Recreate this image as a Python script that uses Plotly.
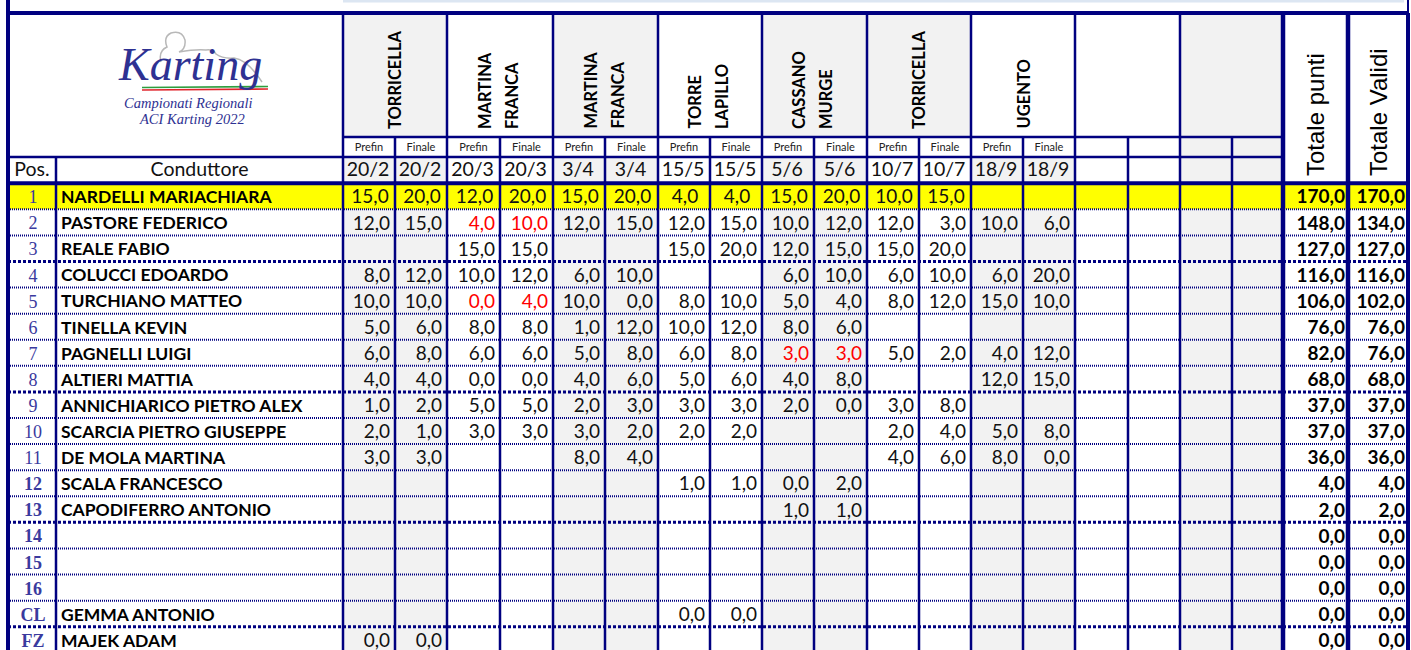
import plotly.graph_objects as go

# ---------------- data ----------------
positions = ["1", "2", "3", "4", "5", "6", "7", "8", "9", "10", "11", "12", "13",
             "14", "15", "16", "CL", "FZ"]
drivers = ["NARDELLI MARIACHIARA", "PASTORE FEDERICO", "REALE FABIO", "COLUCCI EDOARDO",
           "TURCHIANO MATTEO", "TINELLA KEVIN", "PAGNELLI LUIGI", "ALTIERI MATTIA",
           "ANNICHIARICO PIETRO ALEX", "SCARCIA PIETRO GIUSEPPE", "DE MOLA MARTINA",
           "SCALA FRANCESCO", "CAPODIFERRO ANTONIO", "", "", "", "GEMMA ANTONIO", "MAJEK ADAM"]
venue_lines = [["TORRICELLA"], ["MARTINA", "FRANCA"], ["MARTINA", "FRANCA"], ["TORRE", "LAPILLO"],
               ["CASSANO", "MURGE"], ["TORRICELLA"], ["UGENTO"], [], []]
race_dates = ["20/2", "20/3", "3/4", "15/5", "5/6", "10/7", "18/9", "", ""]
session_labels = ["Prefin", "Finale"]

N = None
torricella_1_prefin = [15, 12, N, 8, 10, 5, 6, 4, 1, 2, 3, N, N, N, N, N, N, 0]
torricella_1_finale = [20, 15, N, 12, 10, 6, 8, 4, 2, 1, 3, N, N, N, N, N, N, 0]
martina_1_prefin = [12, 4, 15, 10, 0, 8, 6, 0, 5, 3, N, N, N, N, N, N, N, N]
martina_1_finale = [20, 10, 15, 12, 4, 8, 6, 0, 5, 3, N, N, N, N, N, N, N, N]
martina_2_prefin = [15, 12, N, 6, 10, 1, 5, 4, 2, 3, 8, N, N, N, N, N, N, N]
martina_2_finale = [20, 15, N, 10, 0, 12, 8, 6, 3, 2, 4, N, N, N, N, N, N, N]
lapillo_prefin = [4, 12, 15, N, 8, 10, 6, 5, 3, 2, N, 1, N, N, N, N, 0, N]
lapillo_finale = [4, 15, 20, N, 10, 12, 8, 6, 3, 2, N, 1, N, N, N, N, 0, N]
cassano_prefin = [15, 10, 12, 6, 5, 8, 3, 4, 2, N, N, 0, 1, N, N, N, N, N]
cassano_finale = [20, 12, 15, 10, 4, 6, 3, 8, 0, N, N, 2, 1, N, N, N, N, N]
torricella_2_prefin = [10, 12, 15, 6, 8, N, 5, N, 3, 2, 4, N, N, N, N, N, N, N]
torricella_2_finale = [15, 3, 20, 10, 12, N, 2, N, 8, 4, 6, N, N, N, N, N, N, N]
ugento_prefin = [N, 10, N, 6, 15, N, 4, 12, N, 5, 8, N, N, N, N, N, N, N]
ugento_finale = [N, 6, N, 20, 10, N, 12, 15, N, 8, 0, N, N, N, N, N, N, N]
totale_punti = [170, 148, 127, 116, 106, 76, 82, 68, 37, 37, 36, 4, 2, 0, 0, 0, 0, 0]
totale_validi = [170, 134, 127, 116, 102, 76, 76, 68, 37, 37, 36, 4, 2, 0, 0, 0, 0, 0]
# (driver index, session index) of discarded results shown in red
discarded = [(1, 2), (1, 3), (4, 2), (4, 3), (6, 8), (6, 9)]

sessions = [torricella_1_prefin, torricella_1_finale, martina_1_prefin, martina_1_finale,
            martina_2_prefin, martina_2_finale, lapillo_prefin, lapillo_finale,
            cassano_prefin, cassano_finale, torricella_2_prefin, torricella_2_finale,
            ugento_prefin, ugento_finale]

# ---------------- layout geometry ----------------
W, H = 1411, 650
SESSION_X = [343, 395, 447, 500, 553, 605, 658, 710, 762, 814, 867, 919, 971, 1023,
             1075, 1128, 1180, 1232, 1283]
X_L, X_POS, X_NAME, X_TP, X_TV, X_R = 8, 56, 343, 1283, 1348, 1408
Y_TOP, Y_SUB, Y_DATE, Y_HEAD = 13, 137, 157, 183.2
ROW_H = 26.09
TXT_DY = 2.5  # text baseline nudge inside rows
NAVY = "#000080"
GREY = "#F2F2F2"
YELLOW = "#FFFF00"
RED = "#FF0000"
POSC = "#3A3A9E"
SANS = "Lato, 'Open Sans', sans-serif"
SERIF = "'Liberation Serif', 'DejaVu Serif', serif"

n_rows = len(drivers)
row_top = [Y_HEAD + i * ROW_H for i in range(n_rows + 1)]
row_mid = [row_top[i] + ROW_H / 2 + TXT_DY for i in range(n_rows)]
Y_BOT = row_top[-1]


def fmt(v):
    return f"{v:.1f}".replace(".", ",")


shapes = []


def rect(x0, x1, y0, y1, color):
    shapes.append(dict(type="rect", xref="x", yref="y", x0=x0, x1=x1, y0=y0, y1=y1,
                       line=dict(width=0), fillcolor=color, layer="below"))


def line(x0, y0, x1, y1, width, dash="solid", color=NAVY):
    shapes.append(dict(type="line", xref="x", yref="y", x0=x0, x1=x1, y0=y0, y1=y1,
                       line=dict(color=color, width=width, dash=dash), layer="above"))


# background fills
rect(343, 1404, 0, 2.5, "#DCE6F2")
header_grey = [True, False, True, False, True, True, False, False, True]
for g in range(9):
    gx0, gx1 = SESSION_X[2 * g], SESSION_X[2 * g + 2]
    if header_grey[g]:
        rect(gx0, gx1, Y_TOP, Y_SUB, GREY)
    if g == 8:
        rect(gx0, gx1, Y_SUB, Y_DATE, GREY)
    if g % 2 == 0:
        rect(gx0, gx1, Y_DATE, Y_BOT, GREY)
rect(X_L, X_R, row_top[0], row_top[1], YELLOW)

# horizontal row separators (dotted)
thick_rows = {3, 8, 13, 17}
for k in range(1, n_rows + 1):
    y = row_top[k]
    if k in thick_rows:
        line(X_L, y, X_R, y, 3, "3px,2px")
    else:
        line(X_L, y, X_R, y, 2, "1px,1px")

# solid header lines
line(X_L, Y_TOP, X_R, Y_TOP, 4)
line(X_NAME, Y_SUB, X_TP, Y_SUB, 2.5)
line(X_L, Y_DATE, X_TP, Y_DATE, 2.5)
line(X_L, Y_HEAD, X_R, Y_HEAD, 4)

# vertical lines
line(X_L, 0, X_L, H, 4)
line(X_R, 0, X_R, Y_TOP, 2)
line(X_R, Y_TOP, X_R, H, 4)
line(X_POS, Y_DATE, X_POS, H, 2.5)
for g in range(9):
    line(SESSION_X[2 * g], Y_TOP, SESSION_X[2 * g], H, 2.5)
    line(SESSION_X[2 * g + 1], Y_SUB, SESSION_X[2 * g + 1], H, 2.5)
line(X_TP, Y_TOP, X_TP, H, 4.5)
line(X_TV, Y_TOP, X_TV, H, 4.5)

# logo decoration
shapes.append(dict(type="path", xref="x", yref="y", layer="below",
                   path="M 161,62 Q 158,51 167,47 Q 163,37 171,33 Q 182,30 185,40 "
                        "Q 186,49 179,52 Q 196,49 206,50 Q 213,49 216,54 Q 223,59 234,58 "
                        "Q 248,60 262,82",
                   line=dict(color="#B8B8B8", width=1.5)))
line(142, 87.5, 268, 86.5, 1.6, color="#2E9E3E")
line(142, 90, 268, 89, 1.6, color="#E0242B")

fig = go.Figure()

# position labels
pos_text = [p if i < 11 else f"<b>{p}</b>" for i, p in enumerate(positions)]
fig.add_trace(go.Scatter(x=[(X_L + X_POS) / 2 + 1] * n_rows, y=row_mid, mode="text",
                         text=pos_text, textposition="middle center",
                         textfont=dict(family=SERIF, size=18, color=POSC), hoverinfo="skip"))

# driver names
name_idx = [i for i, d in enumerate(drivers) if d]
fig.add_trace(go.Scatter(x=[X_POS + 5] * len(name_idx), y=[row_mid[i] for i in name_idx],
                         mode="text", text=[drivers[i] for i in name_idx],
                         textposition="middle right",
                         textfont=dict(family=SANS, size=17.5, color="#000000", weight="bold"),
                         hoverinfo="skip"))

# session values
vx, vy, vt, vp, vc = [], [], [], [], []
for j, col in enumerate(sessions):
    x0, x1 = SESSION_X[j], SESSION_X[j + 1]
    for i, v in enumerate(col):
        if v is None:
            continue
        vt.append(fmt(v))
        vy.append(row_mid[i])
        if i == 0:
            vx.append((x0 + x1) / 2 + 1)
            vp.append("middle center")
        else:
            vx.append(x1 - 5)
            vp.append("middle left")
        vc.append(RED if (i, j) in discarded else "#111111")
fig.add_trace(go.Scatter(x=vx, y=vy, mode="text", text=vt, textposition=vp,
                         textfont=dict(family=SANS, size=19, color=vc), hoverinfo="skip"))

# totals
fig.add_trace(go.Scatter(x=[X_TV - 3] * n_rows + [X_R - 3] * n_rows, y=row_mid + row_mid,
                         mode="text", text=[fmt(v) for v in totale_punti] + [fmt(v) for v in totale_validi],
                         textposition="middle left",
                         textfont=dict(family=SANS, size=19, color="#000000", weight="bold"),
                         hoverinfo="skip"))

# header: session labels and dates
hx, hy, ht = [], [], []
dx, dy, dt = [], [], []
for g in range(9):
    for s in range(2):
        j = 2 * g + s
        cx = (SESSION_X[j] + SESSION_X[j + 1]) / 2
        if race_dates[g]:
            hx.append(cx); hy.append((Y_SUB + Y_DATE) / 2 + 1); ht.append(session_labels[s])
            dx.append(cx - 1); dy.append((Y_DATE + Y_HEAD) / 2 + 1.5); dt.append(race_dates[g])
fig.add_trace(go.Scatter(x=hx, y=hy, mode="text", text=ht, textposition="middle center",
                         textfont=dict(family=SANS, size=11, color="#222222"), hoverinfo="skip"))
fig.add_trace(go.Scatter(x=dx + [(X_L + X_POS) / 2, (X_POS + X_NAME) / 2],
                         y=dy + [(Y_DATE + Y_HEAD) / 2 + 1.5] * 2, mode="text",
                         text=dt + ["Pos.", "Conduttore"], textposition="middle center",
                         textfont=dict(family=SANS, size=19.5, color="#111111"), hoverinfo="skip"))

annotations = []
for g, lines_ in enumerate(venue_lines):
    gc = (SESSION_X[2 * g] + SESSION_X[2 * g + 2]) / 2
    n = len(lines_)
    for k, txt in enumerate(lines_):
        annotations.append(dict(x=gc + (k - (n - 1) / 2) * 27 - (2 if n > 1 else 0), y=131,
                                xref="x", yref="y", text=txt, showarrow=False, textangle=-90,
                                xanchor="center", yanchor="bottom",
                                font=dict(family=SANS, size=16.5, color="#000000", weight="bold")))
for txt, cx in [("Totale punti", (X_TP + X_TV) / 2), ("Totale Validi", (X_TV + X_R) / 2)]:
    annotations.append(dict(x=cx, y=178, xref="x", yref="y", text=txt, showarrow=False,
                            textangle=-90, xanchor="center", yanchor="bottom",
                            font=dict(family="'Liberation Sans', Arial, sans-serif", size=24,
                                      color="#000000")))

# logo texts
annotations.append(dict(x=190, y=64, xref="x", yref="y", text="Karting", showarrow=False,
                        font=dict(family=SERIF, size=46, color="#2E3192", style="italic")))
annotations.append(dict(x=188, y=103, xref="x", yref="y", text="Campionati Regionali",
                        showarrow=False,
                        font=dict(family=SERIF, size=14.5, color="#2E3192", style="italic")))
annotations.append(dict(x=192, y=119, xref="x", yref="y", text="ACI Karting 2022",
                        showarrow=False,
                        font=dict(family=SERIF, size=14.5, color="#2E3192", style="italic")))

fig.update_layout(
    width=W, height=H, autosize=False,
    margin=dict(l=0, r=0, t=0, b=0, pad=0),
    paper_bgcolor="white", plot_bgcolor="white",
    showlegend=False,
    xaxis=dict(range=[0, W], visible=False, fixedrange=True),
    yaxis=dict(range=[H, 0], visible=False, fixedrange=True),
    shapes=shapes, annotations=annotations,
)

fig.write_html("out.html", config={"displayModeBar": False},
               post_script="document.body.style.margin='0';document.body.style.overflow='hidden';")
